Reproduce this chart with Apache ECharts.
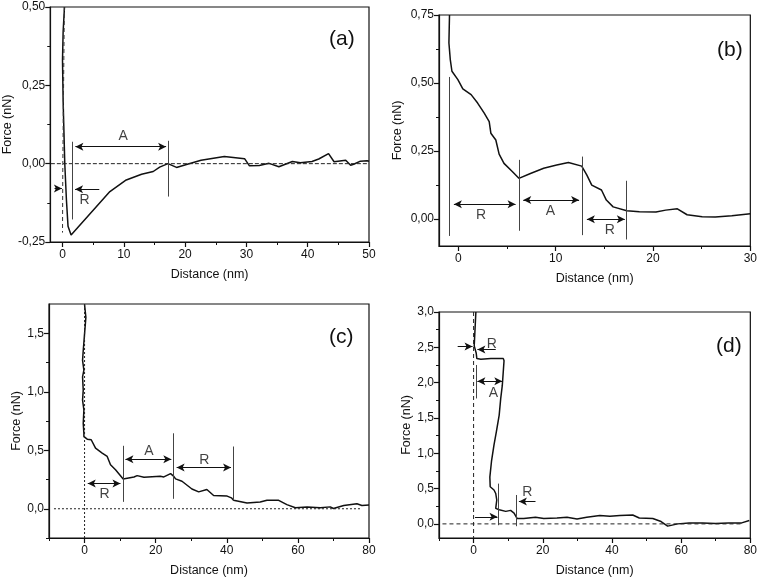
<!DOCTYPE html>
<html>
<head>
<meta charset="utf-8">
<script src="https://cdn.jsdelivr.net/npm/echarts@6/dist/echarts.min.js"></script>
<style>
    html, body { margin: 0; padding: 0; background: #fff; }
    #chart { width: 760px; height: 578px; }
</style>
</head>
<body>
<div id="chart"></div>
<script>
    // 四幅力-距离曲线 (a)(b)(c)(d)

    // ------ (a)
    var curveA = [[0.32, 0.5], [0.1, 0.42], [0.0, 0.33], [0.1, 0.2], [0.37, 0], [0.64, -0.116], [0.9, -0.2], [1.4, -0.228],
        [7.73, -0.089], [10.4, -0.052], [12.9, -0.034], [14.8, -0.025], [15.85, -0.011], [17.2, 0], [18.6, -0.012],
        [20.5, -0.001], [22.6, 0.011], [26.4, 0.023], [29.7, 0.016], [30.5, -0.007], [32.1, -0.006], [33.7, 0.001],
        [35.3, -0.01], [37.5, 0.007], [38.8, 0.003], [40.7, 0.007], [41.8, 0.015], [43.4, 0.032], [44.3, 0.006],
        [46.2, 0.011], [47, -0.005], [47.5, -0.002], [48.6, 0.008], [49.7, 0.009], [50, 0.008]];
    var approachA = [[0.3, 0.5], [0.15, 0.2], [0.05, 0], [0, -0.22]];
    var guidesA = [[[-1.9, 0], [50, 0]]];
    var vlinesA = [[1.51, 0.07, -0.178], [17.3, 0.073, -0.105]];
    var arrowsA = [[2.1, 16.9, 0.054, 2], [6.0, 2.05, -0.082, 1], [-1.3, -0.1, -0.079, 1]];
    var labelsA = [['A', 9.9, 0.088], ['R', 3.6, -0.116]];
    var xTicksA = [0, 10, 20, 30, 40, 50], xMinorA = [5, 15, 25, 35, 45];
    var yTicksA = [-0.25, 0, 0.25, 0.5], yMinorA = [-0.125, 0.125, 0.375];

    // ------ (b)
    var curveB = [[-0.92, 0.75], [-0.98, 0.647], [-0.84, 0.586], [-0.67, 0.543], [-0.06, 0.512], [0.45, 0.478], [1.3, 0.457],
        [1.97, 0.426], [2.65, 0.389], [3.16, 0.358], [3.33, 0.315], [3.84, 0.29], [4.18, 0.238], [4.68, 0.204],
        [5.53, 0.174], [6.21, 0.149], [7.4, 0.167], [8.76, 0.186], [10.1, 0.198], [11.3, 0.207], [12.67, 0.194],
        [13.2, 0.161], [13.7, 0.124], [14.7, 0.106], [15.2, 0.069], [15.9, 0.044], [17.3, 0.03], [18.6, 0.026],
        [20.3, 0.025], [21.3, 0.032], [22.5, 0.037], [23.5, 0.015], [25.05, 0.008], [26.4, 0.007], [28.1, 0.011], [30, 0.019]];
    var guidesB = [];
    var vlinesB = [[-0.92, 0.522, -0.063], [6.21, 0.217, -0.044], [12.73, 0.229, -0.06], [17.25, 0.14, -0.076]];
    var arrowsB = [[-0.47, 5.87, 0.054, 2], [6.66, 12.4, 0.069, 2], [13.2, 17.1, -0.002, 2]];
    var labelsB = [['R', 2.31, 0.014], ['A', 9.44, 0.027], ['R', 15.55, -0.042]];
    var xTicksB = [0, 10, 20, 30], xMinorB = [5, 15, 25];
    var yTicksB = [0, 0.25, 0.5, 0.75], yMinorB = [0.125, 0.375, 0.625];

    // ------ (c)
    var curveC = [[0, 1.745], [0.37, 1.636], [0, 1.495], [-0.37, 1.353], [-0.56, 1.268], [-0.19, 1.184], [-0.56, 1.127],
        [-0.37, 1.014], [-0.56, 0.928], [-0.19, 0.844], [-0.37, 0.73], [-0.19, 0.645], [-0.19, 0.617], [0.75, 0.595],
        [1.87, 0.59], [3.09, 0.518], [4.96, 0.476], [6.37, 0.447], [7.3, 0.376], [8.71, 0.333], [10.86, 0.255],
        [13.9, 0.271], [14.8, 0.283], [16.7, 0.269], [21.3, 0.277], [22.3, 0.272], [24.2, 0.3], [25.1, 0.277],
        [25.6, 0.255], [27.4, 0.235], [30.2, 0.169], [32.1, 0.144], [34.4, 0.164], [36.3, 0.113], [40.1, 0.108],
        [41.3, 0.093], [41.9, 0.073], [45.7, 0.05], [49.4, 0.058], [51.3, 0.072], [54.6, 0.072], [56.9, 0.035],
        [59.3, 0.008], [62.6, 0.016], [66.3, 0.008], [69.1, 0.016], [70, 0.002], [72.9, 0.028], [76.6, 0.042],
        [78, 0.028], [80, 0.031]];
    var guidesC = [[[0, 1.75], [0, -0.25]], [[-8.6, 0], [78, 0]]];
    var vlinesC = [[10.9, 0.538, 0.059], [24.9, 0.645, 0.085], [41.7, 0.532, 0.071]];
    var arrowsC = [[0.9, 10.1, 0.215, 2], [11.5, 24.4, 0.424, 2], [25.9, 41.2, 0.353, 2]];
    var labelsC = [['R', 5.6, 0.122], ['A', 18.1, 0.49], ['R', 33.7, 0.419]];
    var xTicksC = [0, 20, 40, 60, 80], xMinorC = [-10, 10, 30, 50, 70];
    var yTicksC = [0, 0.5, 1, 1.5], yMinorC = [-0.25, 0.25, 0.75, 1.25];

    // ------ (d)
    var curveD = [[0.66, 3.0], [0.18, 2.52], [0.75, 2.42], [0.94, 2.34], [2.1, 2.33], [5.0, 2.34], [8.6, 2.34], [8.8, 2.31],
        [8.3, 1.96], [7.83, 1.77], [7.4, 1.54], [6.6, 1.31], [5.9, 1.12], [5.2, 0.897], [4.7, 0.663], [4.8, 0.525],
        [5.9, 0.48], [6.4, 0.43], [6.7, 0.338], [6.4, 0.22], [7.4, 0.2], [9.3, 0.177], [10.7, 0.191], [11.7, 0.153],
        [12.6, 0.075], [14.5, 0.075], [17.9, 0.094], [20.3, 0.075], [24.1, 0.084], [27, 0.094], [29.9, 0.07],
        [32.7, 0.094], [36.5, 0.117], [39.4, 0.108], [42.3, 0.117], [46, 0.126], [47.9, 0.084], [51.8, 0.075],
        [54.2, 0.033], [56.1, -0.032], [59, 0], [62.3, 0.014], [66.2, 0.014], [69.9, 0.005], [73.7, 0.014],
        [77.5, 0.014], [79.7, 0.047]];
    var guidesD = [[[0, 3], [0, -0.2]], [[-9, 0], [77.5, 0]]];
    var vlinesD = [[0.85, 2.25, 1.776], [7.2, 0.57, -0.019], [12.2, 0.409, -0.033]];
    var arrowsD = [[-4.6, -0.3, 2.51, 1], [6.4, 1.1, 2.47, 1], [1.1, 8.3, 2.02, 2], [0.4, 6.9, 0.1, 1], [17.9, 13.1, 0.316, 1]];
    var labelsD = [['R', 5.3, 2.55], ['A', 5.7, 1.85], ['R', 15.5, 0.45]];
    var xTicksD = [0, 20, 40, 60, 80], xMinorD = [-10, 10, 30, 50, 70];
    var yTicksD = [0, 0.5, 1, 1.5, 2, 2.5, 3], yMinorD = [0.25, 0.75, 1.25, 1.75, 2.25, 2.75];

    var FONT = '"Liberation Sans", Arial, sans-serif',
        INK = '#111';

    var panels = [
        { tag: '(a)', grid: [49, 7, 320, 235], tagPos: [324, 24], x: [-2, 50], y: [-0.25, 0.5], dig: 2,
          curve: curveA, approach: approachA, guides: guidesA, guideType: 'dashed', vlines: vlinesA, arrows: arrowsA, labels: labelsA,
          xt: xTicksA, xm: xMinorA, yt: yTicksA, ym: yMinorA, yGap: 33 },
        { tag: '(b)', grid: [439, 15, 313, 231], tagPos: [712, 35], x: [-2, 30], y: [-0.1, 0.75], dig: 2,
          curve: curveB, guides: guidesB, vlines: vlinesB, arrows: arrowsB, labels: labelsB,
          xt: xTicksB, xm: xMinorB, yt: yTicksB, ym: yMinorB, yGap: 35 },
        { tag: '(c)', grid: [49, 304, 320, 234], tagPos: [324, 322], x: [-10, 80], y: [-0.25, 1.75], dig: 1,
          curve: curveC, guides: guidesC, guideType: [2, 2], vlines: vlinesC, arrows: arrowsC, labels: labelsC,
          xt: xTicksC, xm: xMinorC, yt: yTicksC, ym: yMinorC, yGap: 23 },
        { tag: '(d)', grid: [439, 312, 313, 230], tagPos: [711, 331], x: [-10, 80], y: [-0.2, 3], dig: 1,
          curve: curveD, guides: guidesD, guideType: [4, 3], vlines: vlinesD, arrows: arrowsD, labels: labelsD,
          xt: xTicksD, xm: xMinorD, yt: yTicksD, ym: yMinorD, yGap: 25 }
    ];

    function fmt(dig) {
        return function (v) {
            return (+v).toFixed(dig).replace('.', ',');
        };
    }

    function majorAxis(i, range, ticks, dig, name, gap, isY) {
        return {
            type: 'value', gridIndex: i, min: range[0], max: range[1],
            position: isY ? 'left' : 'bottom',
            name: name, nameLocation: 'middle', nameGap: gap,
            nameTextStyle: { fontFamily: FONT, fontSize: 12.5, color: INK },
            axisLine: { show: true, onZero: false, lineStyle: { color: INK, width: 1.2 } },
            axisTick: { show: true, customValues: ticks, length: 5, lineStyle: { color: INK, width: 1.2 } },
            axisLabel: { customValues: ticks, formatter: isY ? fmt(dig) : function (v) { return String(v); },
                fontFamily: FONT, fontSize: 12, color: INK, margin: isY ? 5 : 7 },
            splitLine: { show: false }
        };
    }

    function minorAxis(i, range, ticks, isY) {
        return {
            type: 'value', gridIndex: i, min: range[0], max: range[1],
            position: isY ? 'left' : 'bottom',
            axisLine: { show: false, onZero: false },
            axisTick: { show: true, customValues: ticks, length: 3, lineStyle: { color: INK, width: 1 } },
            axisLabel: { show: false },
            splitLine: { show: false }
        };
    }

    var grids = [], xAxes = [], yAxes = [], titles = [], series = [];

    panels.forEach(function (p, i) {
        grids.push({ left: p.grid[0], top: p.grid[1], width: p.grid[2], height: p.grid[3],
            show: true, borderColor: INK, borderWidth: 1.2, containLabel: false });
        xAxes[i] = majorAxis(i, p.x, p.xt, 0, 'Distance (nm)', 26, false);
        yAxes[i] = majorAxis(i, p.y, p.yt, p.dig, 'Force (nN)', p.yGap, true);
        xAxes[i + 4] = minorAxis(i, p.x, p.xm, false);
        yAxes[i + 4] = minorAxis(i, p.y, p.ym, true);

        titles.push({ text: p.tag, left: p.tagPos[0], top: p.tagPos[1],
            textStyle: { fontFamily: FONT, fontSize: 21, fontWeight: 'normal', color: INK } });

        // 标注：竖线 + 箭头
        var marks = [];
        p.vlines.forEach(function (v) {
            marks.push([{ coord: [v[0], v[1]], symbol: 'none', lineStyle: { color: '#444', width: 1, type: 'solid' } },
                { coord: [v[0], v[2]], symbol: 'none' }]);
        });
        p.arrows.forEach(function (a) {
            marks.push([{ coord: [a[0], a[2]], symbol: a[3] === 2 ? 'arrow' : 'none', lineStyle: { color: INK, width: 1, type: 'solid' } },
                { coord: [a[1], a[2]], symbol: 'arrow' }]);
        });

        series.push({
            type: 'line', xAxisIndex: i, yAxisIndex: i, data: p.curve, showSymbol: false, symbol: 'none',
            lineStyle: { color: INK, width: 1.5 }, z: 3,
            markLine: { silent: true, symbol: ['none', 'none'], symbolSize: [6, 8], label: { show: false },
                emphasis: { disabled: true }, animation: false, data: marks }
        });

        if (p.approach) {
            series.push({ type: 'line', xAxisIndex: i, yAxisIndex: i, data: p.approach, showSymbol: false, symbol: 'none',
                lineStyle: { color: '#333', width: 1, type: [4, 3] } });
        }
        p.guides.forEach(function (g) {
            series.push({ type: 'line', xAxisIndex: i, yAxisIndex: i, data: g, showSymbol: false, symbol: 'none',
                lineStyle: { color: '#222', width: 1, type: p.guideType || 'dashed' } });
        });

        series.push({
            type: 'scatter', xAxisIndex: i, yAxisIndex: i, symbolSize: 0, silent: true,
            data: p.labels.map(function (l) { return { name: l[0], value: [l[1], l[2]] }; }),
            label: { show: true, position: 'inside', formatter: '{b}', fontFamily: FONT, fontSize: 14, color: INK }
        });
    });

    var chart = echarts.init(document.getElementById('chart'), null, { renderer: 'canvas' });
    chart.setOption({
        animation: false,
        backgroundColor: '#fff',
        title: titles,
        grid: grids,
        xAxis: xAxes,
        yAxis: yAxes,
        series: series
    });
</script>
</body>
</html>
